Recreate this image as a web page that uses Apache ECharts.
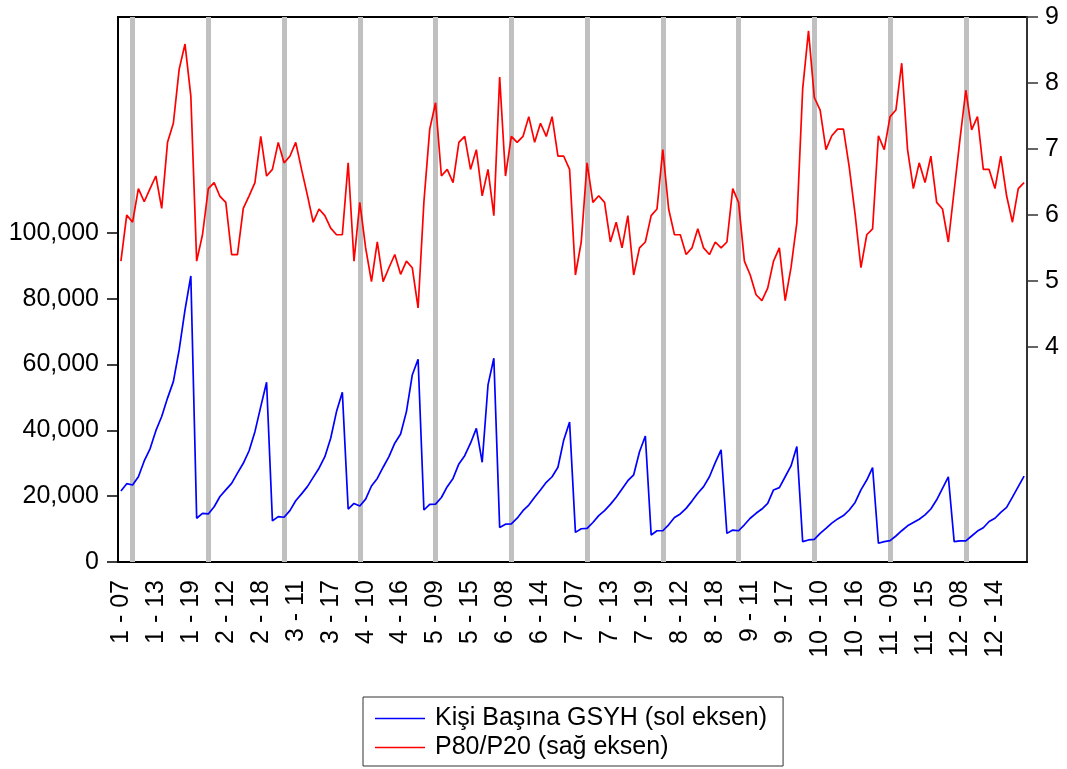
<!DOCTYPE html>
<html>
<head>
<meta charset="utf-8">
<script src="https://cdn.jsdelivr.net/npm/echarts@6/dist/echarts.min.js"></script>
<style>
	html,body{margin:0;padding:0;background:#fff;}
	#chart{width:1067px;height:769px;}
</style>
</head>
<body>
<div id="chart"></div>
<script>
// kesitler (1..12) ve yillar (07..19)
var regions = ['1','2','3','4','5','6','7','8','9','10','11','12'];
var years = ['07','08','09','10','11','12','13','14','15','16','17','18','19'];
var shadeYear = '09';

// Kisi basina GSYH (sol eksen)
var gsyh = [
	21600, 23800, 23400, 25900, 30700, 34400, 39900, 44200, 49800, 54800, 64500, 76600, 86900,
	13300, 14800, 14600, 16800, 19900, 21900, 23900, 27000, 30000, 33800, 39600, 47200, 54600,
	12500, 13800, 13600, 15600, 18600, 20700, 22900, 25700, 28500, 32000, 37600, 45700, 51600,
	16100, 17800, 17000, 19100, 23100, 25400, 28800, 32000, 36100, 38900, 45700, 56800, 61600,
	15800, 17500, 17600, 19600, 22900, 25400, 29800, 32300, 36100, 40600, 30300, 53800, 61900,
	10500, 11500, 11600, 13300, 15600, 17300, 19700, 21900, 24200, 25900, 28800, 37100, 42500,
	9000, 10100, 10200, 12000, 14100, 15600, 17500, 19700, 22200, 24700, 26500, 33500, 38300,
	8200, 9500, 9500, 11300, 13500, 14600, 16300, 18500, 20900, 22900, 25900, 30200, 34100,
	8700, 9700, 9500, 11300, 13300, 14800, 16100, 17800, 21900, 22600, 25900, 29200, 35100,
	6200, 6700, 6900, 8700, 10200, 11800, 13100, 14100, 15800, 18100, 21900, 24900, 28700,
	5700, 6200, 6500, 7900, 9500, 11000, 12000, 13000, 14300, 16100, 18900, 22400, 25900,
	6200, 6400, 6400, 7900, 9400, 10400, 12300, 13300, 15100, 16600, 19700, 22900, 26100
];
// P80/P20 (sag eksen)
var p80p20 = [
	5.30, 6.00, 5.89, 6.40, 6.20, 6.40, 6.59, 6.10, 7.10, 7.39, 8.21, 8.59, 7.80,
	5.30, 5.70, 6.40, 6.49, 6.28, 6.19, 5.40, 5.40, 6.10, 6.29, 6.49, 7.19, 6.59,
	6.69, 7.10, 6.79, 6.89, 7.10, 6.69, 6.30, 5.89, 6.09, 5.99, 5.80, 5.70, 5.70,
	6.79, 5.30, 6.19, 5.50, 4.99, 5.59, 4.99, 5.20, 5.40, 5.10, 5.30, 5.20, 4.59,
	6.20, 7.30, 7.70, 6.59, 6.69, 6.49, 7.10, 7.19, 6.69, 6.99, 6.29, 6.69, 5.99,
	8.09, 6.59, 7.19, 7.10, 7.19, 7.49, 7.10, 7.39, 7.19, 7.49, 6.89, 6.89, 6.69,
	5.09, 5.59, 6.79, 6.19, 6.29, 6.19, 5.59, 5.89, 5.50, 5.99, 5.09, 5.50, 5.59,
	5.99, 6.09, 6.99, 6.09, 5.70, 5.70, 5.40, 5.50, 5.79, 5.50, 5.40, 5.59, 5.50,
	5.59, 6.40, 6.19, 5.30, 5.09, 4.79, 4.70, 4.89, 5.30, 5.50, 4.70, 5.20, 5.88,
	7.91, 8.79, 7.78, 7.59, 6.99, 7.20, 7.30, 7.30, 6.72, 6.01, 5.20, 5.70, 5.79,
	7.20, 6.99, 7.49, 7.59, 8.30, 6.99, 6.40, 6.79, 6.49, 6.89, 6.19, 6.09, 5.59,
	6.37, 7.15, 7.89, 7.29, 7.49, 6.69, 6.69, 6.40, 6.89, 6.29, 5.89, 6.40, 6.49
];
var leftTicks = [0, 20000, 40000, 60000, 80000, 100000];
var rightTicks = [4, 5, 6, 7, 8, 9];

var cats = [];
var shade = [];
for(var r=0;r<regions.length;r++){
	for(var y=0;y<years.length;y++){
		var c = regions[r] + ' - ' + years[y];
		cats.push(c);
		if(years[y]==shadeYear) shade.push({xAxis:c});
	}
}

var font = 'Liberation Sans';
var chart = echarts.init(document.getElementById('chart'));
var option = {
	animation:false,
	grid:{left:118, right:40, top:17, bottom:207, show:true, borderColor:'#000', borderWidth:2},
	legend:{
		orient:'vertical', left:363, top:697,
		icon:'rect', itemWidth:50, itemHeight:1.5, itemGap:4,
		padding:[9,16,6,12],
		borderColor:'#333', borderWidth:1,
		textStyle:{fontSize:25, lineHeight:25, color:'#000', fontFamily:font, padding:[0,0,0,5]},
		data:['Kişi Başına GSYH (sol eksen)','P80/P20 (sağ eksen)']
	},
	xAxis:{
		type:'category', data:cats, boundaryGap:true,
		axisLine:{lineStyle:{color:'#000', width:2}},
		axisTick:{interval:1, length:11, lineStyle:{color:'#000', width:1.5}},
		axisLabel:{interval:5, rotate:90, margin:18, fontSize:25, color:'#000', fontFamily:font},
		splitLine:{show:false}
	},
	yAxis:[{
		type:'value', position:'left', min:0, max:165600,
		axisLine:{show:true, lineStyle:{color:'#000', width:2}},
		axisTick:{show:true, length:11, customValues:leftTicks, lineStyle:{color:'#000', width:1.5}},
		axisLabel:{customValues:leftTicks, margin:19, fontSize:25, color:'#000', fontFamily:font,
			formatter:function(v){ return String(v).replace(/\B(?=(\d{3})+(?!\d))/g, ','); }},
		splitLine:{show:false}
	},{
		type:'value', position:'right', min:0.74, max:9,
		axisLine:{show:true, lineStyle:{color:'#333', width:2}},
		axisTick:{show:true, length:11, customValues:rightTicks, lineStyle:{color:'#333', width:1.5}},
		axisLabel:{customValues:rightTicks, margin:18, fontSize:25, color:'#000', fontFamily:font},
		splitLine:{show:false}
	}],
	series:[{
		name:'Kişi Başına GSYH (sol eksen)',
		type:'line', yAxisIndex:0, data:gsyh, z:3,
		symbol:'none', color:'#0000ff',
		lineStyle:{color:'#0000ff', width:1.7},
		markLine:{
			z:1, silent:true, symbol:'none',
			label:{show:false},
			emphasis:{disabled:true},
			lineStyle:{color:'#c0c0c0', width:5, type:'solid'},
			data:shade
		}
	},{
		name:'P80/P20 (sağ eksen)',
		type:'line', yAxisIndex:1, data:p80p20, z:4,
		symbol:'none', color:'#ff0000',
		lineStyle:{color:'#ff0000', width:1.7}
	}]
};
chart.setOption(option);
</script>
</body>
</html>
